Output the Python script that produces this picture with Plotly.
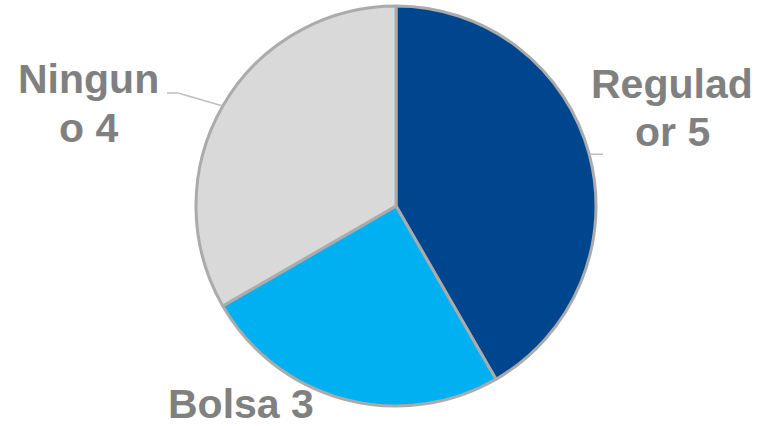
import numpy as np
import plotly.graph_objects as go

labels = ["Regulador", "Bolsa", "Ninguno"]
values = [5, 3, 4]
colors = ["#00468E", "#00B0F0", "#D9D9D9"]

W, H = 762, 426
CX, CY, R = 396, 206, 200

def px(x):
    return x / W

def py(y):
    return 1 - y / H

fig = go.Figure(go.Pie(
    labels=labels, values=values, sort=False, direction="clockwise", rotation=0,
    marker=dict(colors=colors, line=dict(color="#ABABAB", width=3)),
    textinfo="none", hoverinfo="label+value", showlegend=False,
    domain=dict(x=[px(CX - R), px(CX + R)], y=[py(CY + R), py(CY - R)]),
))

# slice mid-angles (clockwise from 12 o'clock)
tot = sum(values)
cum = np.cumsum([0] + values)
mid = [(cum[i] + values[i] / 2) / tot * 2 * np.pi for i in range(len(values))]
edge = [(CX + R * np.sin(a), CY - R * np.cos(a)) for a in mid]

font = dict(family="Liberation Sans, Arial, sans-serif", size=41, color="#808080")
ann = []
def line_text(t, x, ybase):
    ann.append(dict(text="<b>%s</b>" % t, x=px(x), y=py(ybase), xref="paper", yref="paper",
                    xanchor="center", yanchor="bottom", showarrow=False, font=font,
                    yshift=-10))

line_text("Regulad", 672, 99)
line_text("or 5", 672, 147)
line_text("Ningun", 88, 94)
line_text("o 4", 88, 143)
ann.append(dict(text="<b>Bolsa 3</b>", x=px(241), y=0, xref="paper", yref="paper",
                xanchor="center", yanchor="bottom", showarrow=False, font=font,
                height=40, valign="middle"))

lc = dict(color="#BFBFBF", width=1.5)
ex, ey = edge[0]
shapes = [
    dict(type="line", xref="paper", yref="paper", x0=px(ex), y0=py(ey), x1=px(603), y1=py(ey), line=lc),
]
ex, ey = edge[2]
shapes += [
    dict(type="line", xref="paper", yref="paper", x0=px(ex), y0=py(ey), x1=px(178), y1=py(93), line=lc),
    dict(type="line", xref="paper", yref="paper", x0=px(178), y0=py(93), x1=px(167), y1=py(93), line=lc),
]

fig.update_layout(width=W, height=H, margin=dict(l=0, r=0, t=0, b=0),
                  paper_bgcolor="white", plot_bgcolor="white",
                  annotations=ann, shapes=shapes)
fig.write_html("out.html", config={"displayModeBar": False},
               post_script="document.body.style.margin='0';document.body.style.overflow='hidden';")
